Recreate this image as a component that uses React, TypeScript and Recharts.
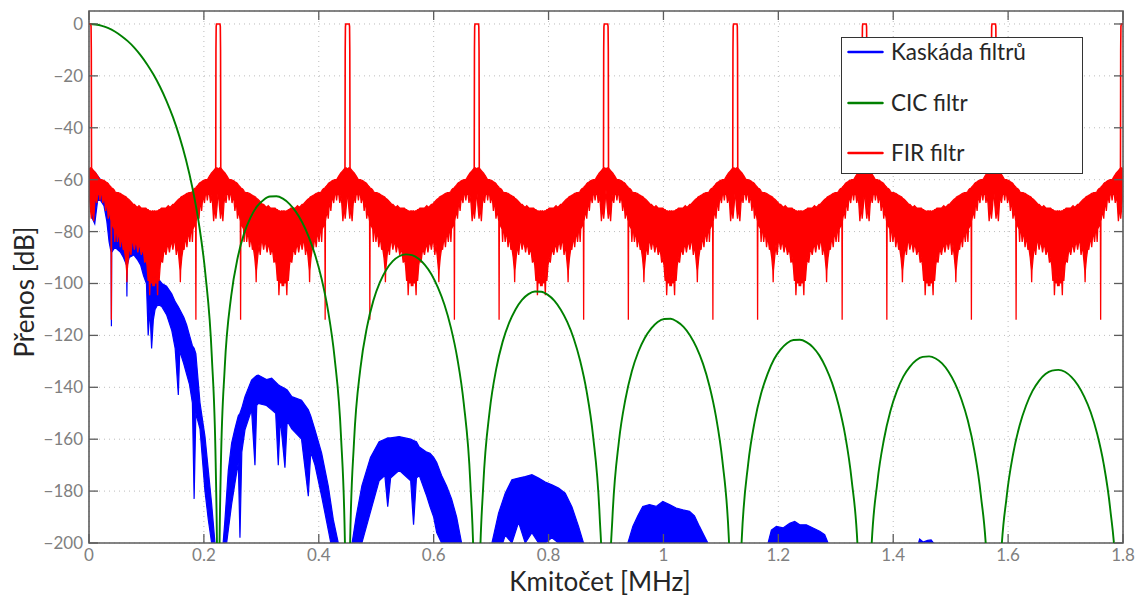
import React from 'react';
import {
  ComposedChart,
  Area,
  Line,
  XAxis,
  YAxis,
  CartesianGrid,
  ReferenceArea,
  Legend,
} from 'recharts';

// ---------- axes ----------
const X_TICKS = [0, 0.2, 0.4, 0.6, 0.8, 1, 1.2, 1.4, 1.6, 1.8];
const Y_TICKS = [0, -20, -40, -60, -80, -100, -120, -140, -160, -180, -200];
const X_DOMAIN = [0, 1.8];
const Y_DOMAIN = [-200, 5];

const SERIES_NAMES = ['Kaskáda filtrů', 'CIC filtr', 'FIR filtr'];
const SERIES_COLORS = ['#0000ff', '#008000', '#ff0000'];

// ---------- CIC filtr (green) ----------
const CIC_FREQ = [
  0, 0.0113, 0.0225, 0.0338, 0.045, 0.0563, 0.0675, 0.0788, 0.09, 0.1013, 0.1125, 0.1238, 0.135, 0.1463, 0.1575, 0.1688, 0.18, 0.1913, 0.2025, 0.2138, 0.2205, 0.2239, 0.225,
  0.2261, 0.2295, 0.2363, 0.2475, 0.2588, 0.27, 0.2813, 0.2925, 0.3038, 0.315, 0.3263, 0.3375, 0.3488, 0.36, 0.3713, 0.3825, 0.3938, 0.405, 0.4163, 0.4275, 0.4388, 0.4455, 0.4489, 0.45,
  0.4545, 0.4613, 0.4725, 0.4838, 0.495, 0.5063, 0.5175, 0.5288, 0.54, 0.5513, 0.5625, 0.5738, 0.585, 0.5963, 0.6075, 0.6188, 0.63, 0.6413, 0.6525, 0.6638, 0.6705, 0.675,
  0.6795, 0.6863, 0.6975, 0.7088, 0.72, 0.7313, 0.7425, 0.7538, 0.765, 0.7763, 0.7875, 0.7988, 0.81, 0.8213, 0.8325, 0.8438, 0.855, 0.8663, 0.8775, 0.8888, 0.8955, 0.9,
  0.9045, 0.9113, 0.9225, 0.9338, 0.945, 0.9563, 0.9675, 0.9788, 0.99, 1.0013, 1.0125, 1.0238, 1.035, 1.0463, 1.0575, 1.0688, 1.08, 1.0913, 1.1025, 1.1138, 1.1205, 1.125,
  1.1295, 1.1363, 1.1475, 1.1588, 1.17, 1.1813, 1.1925, 1.2038, 1.215, 1.2263, 1.2375, 1.2488, 1.26, 1.2713, 1.2825, 1.2938, 1.305, 1.3163, 1.3275, 1.3388, 1.35,
  1.3613, 1.3725, 1.3838, 1.395, 1.4063, 1.4175, 1.4288, 1.44, 1.4513, 1.4625, 1.4738, 1.485, 1.4963, 1.5075, 1.5188, 1.53, 1.5413, 1.5525, 1.5638, 1.575,
  1.5863, 1.5975, 1.6088, 1.62, 1.6313, 1.6425, 1.6538, 1.665, 1.6763, 1.6875, 1.6988, 1.71, 1.7213, 1.7325, 1.7438, 1.755, 1.7663, 1.7775, 1.7888, 1.8,
];
const CIC_DB = [
  0, -0.2, -0.7, -1.6, -2.9, -4.6, -6.6, -9.1, -12.1, -15.6, -19.6, -24.3, -29.7, -36.0, -43.4, -52.3, -63.1, -76.9, -96.1, -128.1, -169, -230, -300,
  -230, -170.8, -132.4, -104.9, -90.1, -80.7, -74.5, -70.3, -67.8, -66.5, -66.4, -67.3, -69.3, -72.3, -76.5, -82.0, -89.1, -98.3, -110.7, -128.6, -159.3, -199.6, -260, -300,
  -200.2, -161.2, -132.6, -116.9, -106.6, -99.6, -94.7, -91.4, -89.5, -88.8, -89.1, -90.5, -92.9, -96.5, -101.6, -108.2, -117.0, -129.0, -146.4, -176.7, -216.7, -300,
  -217.1, -177.9, -149.1, -133.0, -122.5, -115.2, -110.0, -106.3, -104.1, -103.1, -103.2, -104.4, -106.6, -110.1, -114.8, -121.2, -129.8, -141.6, -158.8, -188.9, -228.9, -300,
  -229.1, -189.8, -160.8, -144.6, -133.8, -126.3, -121.0, -117.3, -114.8, -113.7, -113.6, -114.7, -116.7, -120.0, -124.6, -130.9, -139.4, -151.1, -168.1, -198.1, -240, -300,
  -240, -198.6, -169.5, -153.2, -142.4, -134.8, -129.2, -125.5, -123.0, -121.8, -121.7, -122.6, -124.5, -127.7, -132.3, -138.5, -146.9, -158.4, -175.5, -205.4, -300,
  -205.7, -176.4, -160.1, -149.2, -141.5, -135.9, -132.1, -129.6, -128.3, -128.1, -128.9, -130.8, -134.0, -138.5, -144.7, -152.9, -164.5, -181.5, -211.4, -300,
  -211.4, -182.1, -165.6, -154.7, -147.0, -141.4, -137.5, -134.9, -133.6, -133.3, -134.0, -136.0, -139.1, -143.6, -149.6, -157.9, -169.4, -186.4, -216.1, -300,
];

// ---------- FIR filtr (red) ----------
// centres of the FIR pass-band images
const FIR_IMAGE_CENTERS = [0, 0.225, 0.45, 0.675, 0.9, 1.125, 1.35, 1.575, 1.8];
// pass-band spike shape around each centre
const FIR_PASS_OFFSET = [-0.0044, -0.004, -0.0036, -0.003, 0.003, 0.0036, 0.004, 0.0044];
const FIR_PASS_DB = [-58, -10, -1, 0, 0, -1, -10, -58];
// stop-band between two neighbouring images (offset from the left image)
const FIR_STOP_OFFSET = [
  0, 0.002, 0.004, 0.006, 0.008, 0.01, 0.012, 0.0135, 0.015, 0.0175,
  0.019, 0.0205, 0.0225, 0.024, 0.0255, 0.0275, 0.029, 0.0305, 0.032, 0.0335,
  0.035, 0.037, 0.0384, 0.0389, 0.0394, 0.042, 0.044, 0.045, 0.046, 0.048,
  0.0495, 0.051, 0.053, 0.0545, 0.056, 0.058, 0.0595, 0.061, 0.0635, 0.0655,
  0.066, 0.0665, 0.069, 0.071, 0.073, 0.075, 0.077, 0.079, 0.081, 0.083,
  0.085, 0.087, 0.089, 0.091, 0.093, 0.095, 0.097, 0.099, 0.101, 0.103,
  0.1045, 0.1056, 0.107, 0.1085, 0.11, 0.1112, 0.1125,
  0.1138, 0.115, 0.1165, 0.118, 0.1194, 0.1205, 0.122, 0.124, 0.126, 0.128,
  0.13, 0.132, 0.134, 0.136, 0.138, 0.14, 0.142, 0.144, 0.146, 0.148,
  0.15, 0.152, 0.154, 0.156, 0.1585, 0.159, 0.1595, 0.1615, 0.164, 0.1655,
  0.167, 0.169, 0.1705, 0.172, 0.174, 0.1755, 0.177, 0.179, 0.18, 0.181,
  0.183, 0.1856, 0.1861, 0.1866, 0.188, 0.19, 0.1915, 0.193, 0.1945, 0.196,
  0.1975, 0.1995, 0.201, 0.2025, 0.2045, 0.206, 0.2075, 0.21, 0.2115, 0.213,
  0.215, 0.217, 0.219, 0.221, 0.223,
];
const FIR_STOP_UPPER = [
  -56, -55.5, -55.5, -56, -56.5, -57, -57.5, -58, -58.5, -59.5,
  -60, -60, -60, -60.2, -60.3, -60.5, -60.8, -61, -61.2, -61.5,
  -62, -62.5, -62.8, -63.5, -63.2, -63.5, -64, -64.5, -64.8, -65,
  -65, -65, -65.2, -65.3, -65.5, -65.8, -66, -66.2, -66.5, -66.8,
  -68, -67.2, -67.5, -68, -68.5, -69, -69.5, -69.5, -70, -70.5,
  -70.5, -70, -70.5, -71, -71, -71, -71, -71, -71.5, -71.5,
  -72, -72, -72, -72.5, -72, -72, -72.5,
  -72, -72, -72.5, -72, -72, -72, -71.5, -71.5, -71, -71,
  -71, -71, -71, -70.5, -70, -70.5, -70.5, -70, -69.5, -69.5,
  -69, -68.5, -68, -67.5, -67.2, -68, -66.8, -66.5, -66.2, -66,
  -65.8, -65.5, -65.3, -65.2, -65, -65, -65, -64.8, -64.5, -64,
  -63.5, -63.2, -63.5, -62.8, -62.5, -62, -61.5, -61.2, -61, -60.8,
  -60.5, -60.3, -60.2, -60, -60, -60, -59.5, -58.5, -58, -57.5,
  -57, -56.5, -56, -55.5, -55.5,
];
const FIR_STOP_LOWER = [
  -64, -70, -75, -70, -76, -69, -66, -69, -66, -65,
  -68, -65, -66, -69, -67, -68, -72, -69, -70, -75,
  -72, -74, -76, -114, -77, -78, -79, -84, -80, -80,
  -84, -81, -82, -86, -83, -84, -87, -86, -90, -95,
  -99.5, -95, -89, -85, -89, -84, -84, -87, -84, -85,
  -88, -85, -86, -89, -87, -88, -92, -90, -93, -99,
  -95, -104.5, -97, -100, -97, -101, -98,
  -101, -97, -100, -97, -104.5, -95, -99, -93, -90, -92,
  -88, -87, -89, -86, -85, -88, -85, -84, -87, -84,
  -84, -89, -85, -89, -95, -99.5, -95, -90, -86, -87,
  -84, -83, -86, -82, -81, -84, -80, -80, -84, -79,
  -78, -77, -114, -76, -74, -72, -75, -70, -69, -72,
  -68, -67, -69, -66, -65, -68, -65, -66, -69, -66,
  -69, -76, -70, -75, -70,
];

// ---------- Kaskáda filtrů (blue) ----------
const CASCADE_FREQ = [
  0.004, 0.01, 0.015, 0.02, 0.026, 0.031, 0.035, 0.0385, 0.039, 0.0395,
  0.045, 0.05, 0.055, 0.06, 0.0655, 0.066, 0.0665, 0.07, 0.078, 0.085,
  0.09, 0.095, 0.1, 0.103, 0.106, 0.109, 0.112, 0.115, 0.12, 0.127,
  0.135, 0.144, 0.15, 0.1555, 0.158, 0.165, 0.17, 0.175, 0.18, 0.183,
  0.186, 0.1932, 0.2019, 0.2077, 0.2135, 0.2193, 0.223,
  0.228, 0.2335, 0.2367, 0.2425, 0.2483, 0.254, 0.2599, 0.2628, 0.266, 0.2715,
  0.283, 0.2889, 0.292, 0.2947, 0.309, 0.318, 0.325, 0.3295, 0.333, 0.3411,
  0.345, 0.353, 0.37, 0.3818, 0.386, 0.3934, 0.405, 0.4166, 0.4253, 0.434, 0.44,
  0.45, 0.458, 0.465, 0.475, 0.49, 0.505, 0.515, 0.52, 0.525, 0.54,
  0.55, 0.56, 0.565, 0.57, 0.575, 0.588, 0.5936, 0.6, 0.6053, 0.6138,
  0.6225, 0.6312, 0.64, 0.6486, 0.656,
  0.695, 0.7014, 0.713, 0.7246, 0.7362, 0.7478, 0.7594, 0.771, 0.7826, 0.7942,
  0.8058, 0.8174, 0.829, 0.8406, 0.8522, 0.8609, 0.868,
  0.932, 0.938, 0.9467, 0.9554, 0.964, 0.9757, 0.9873, 0.9989, 1.0105, 1.0221,
  1.0337, 1.0453, 1.054, 1.0627, 1.0714, 1.0772, 1.084,
  1.176, 1.1821, 1.1879, 1.1966, 1.2082, 1.2198, 1.2285, 1.2372, 1.2488, 1.2604,
  1.272, 1.2807, 1.2865, 1.293,
  1.438, 1.444, 1.446, 1.452, 1.46, 1.466, 1.47, 1.476,
];
const CASCADE_UPPER = [
  -56, -57, -58.5, -60, -61, -62, -62.5, -63.5, -64, -64.5,
  -68, -69, -70, -72, -74, -74.2, -74.4, -75, -77, -81,
  -83, -85, -86, -87, -88, -90, -92, -95, -98, -100,
  -101, -104, -107, -109, -110, -113, -116, -120, -124, -125,
  -127, -146, -159, -172, -185, -200, -240,
  -240, -200, -191, -172, -161.5, -156, -151, -150, -148, -143.6,
  -137.2, -136, -135.5, -135.3, -137, -136.5, -138, -139, -139.5, -140.5,
  -141, -143.6, -145, -148.7, -151, -156.4, -165.4, -178.2, -191, -200, -240,
  -240, -200, -190, -178, -167, -161, -160, -159.5, -159.5, -159,
  -159.5, -160, -160.5, -161, -163, -165, -165.4, -167, -169, -174,
  -178, -183, -190, -200, -240,
  -240, -200, -188.5, -180.8, -175.6, -175, -174.4, -173.7, -175, -176.5,
  -177.6, -178.8, -180.8, -186, -193.6, -200, -240,
  -240, -200, -193.6, -189.5, -185.9, -185.2, -185.9, -184, -185.2, -186.5,
  -187.2, -187.8, -189.5, -193.6, -197.4, -200, -240,
  -240, -200, -195, -193.6, -194.2, -192.4, -191.7, -193, -193, -194.2,
  -195.5, -196.8, -200, -240,
  -240, -200, -198.5, -199.6, -199, -198.8, -200, -240,
];
const CASCADE_LOWER = [
  -74, -77, -68, -68, -70, -76, -84, -88, -116.5, -88,
  -86, -87, -88, -90, -93, -105, -93, -90, -89, -91,
  -93, -97, -100, -120, -110, -125, -114, -110, -108, -109,
  -112, -118, -125, -143, -126, -131, -135, -139, -146, -183,
  -150, -156, -180, -191, -200, -215, -240,
  -240, -215, -205, -195, -185, -177, -169, -198, -165, -156.4,
  -148.7, -170, -147, -146.2, -147, -148.7, -150, -170, -152, -171,
  -153, -156, -160, -182, -165, -170, -182, -195, -205, -215, -240,
  -240, -215, -205, -200, -188, -176, -174, -186, -175, -172,
  -174, -176, -193, -175, -174, -182, -186, -190, -196, -200,
  -205, -212, -215, -220, -240,
  -240, -215, -205, -197, -200, -192, -200, -196, -200, -200,
  -198, -200, -200, -205, -210, -215, -240,
  -240, -215, -210, -205, -205, -200, -205, -200, -205, -200,
  -205, -200, -210, -210, -215, -220, -240,
  -240, -215, -210, -210, -210, -210, -210, -210, -210, -210,
  -210, -212, -215, -240,
  -240, -215, -210, -210, -210, -210, -215, -240,
];

// ---------- tables built from the arrays ----------
const cicRows = CIC_FREQ.map((f, i) => ({ f, db: CIC_DB[i] }));

const cascadeRows = CASCADE_FREQ.map((f, i) => ({
  f,
  band: [CASCADE_LOWER[i], CASCADE_UPPER[i]],
}));

const firStopRows: { f: number; band: number[] }[] = [];
FIR_IMAGE_CENTERS.slice(0, -1).forEach((c) => {
  FIR_STOP_OFFSET.forEach((o, i) => {
    firStopRows.push({ f: c + o, band: [FIR_STOP_LOWER[i], FIR_STOP_UPPER[i]] });
  });
});
firStopRows.push({
  f: FIR_IMAGE_CENTERS[FIR_IMAGE_CENTERS.length - 1],
  band: [FIR_STOP_LOWER[0], FIR_STOP_UPPER[0]],
});

const firPassRows: { f: number; db: number | null }[] = [];
FIR_IMAGE_CENTERS.forEach((c) => {
  FIR_PASS_OFFSET.forEach((o, i) => firPassRows.push({ f: c + o, db: FIR_PASS_DB[i] }));
  firPassRows.push({ f: c + 0.1, db: null });
});

// ---------- styling ----------
const PLOT = { left: 89, right: 1123, top: 11, bottom: 543 };
const TICK_LEN = 9;
const AXIS_COLOR = '#5c5c5c';
const TICK_TEXT = '#808080';
const TITLE_COLOR = '#262626';
const FONT = 'Lato, "Open Sans", sans-serif';

const fmtX = (v: number) => String(Math.round(v * 10) / 10);
const fmtY = (v: number) => (v < 0 ? '\u2212' + Math.abs(v) : String(v));

const XTick = (props: any) => {
  const { x, y, payload } = props;
  return (
    <g>
      <line x1={x} x2={x} y1={PLOT.bottom} y2={PLOT.bottom - TICK_LEN} stroke={AXIS_COLOR} strokeWidth={1.3} />
      <line x1={x} x2={x} y1={PLOT.top} y2={PLOT.top + TICK_LEN} stroke={AXIS_COLOR} strokeWidth={1.3} />
      <text x={x} y={y} dy={12} textAnchor="middle" fill={TICK_TEXT} fontSize={17} fontFamily={FONT}>
        {fmtX(payload.value)}
      </text>
    </g>
  );
};

const YTick = (props: any) => {
  const { x, y, payload } = props;
  return (
    <g>
      <line x1={PLOT.left} x2={PLOT.left + TICK_LEN} y1={y} y2={y} stroke={AXIS_COLOR} strokeWidth={1.3} />
      <line x1={PLOT.right - TICK_LEN} x2={PLOT.right} y1={y} y2={y} stroke={AXIS_COLOR} strokeWidth={1.3} />
      <text x={x} y={y} dy={6} textAnchor="end" fill={TICK_TEXT} fontSize={17} fontFamily={FONT}>
        {fmtY(payload.value)}
      </text>
    </g>
  );
};

const XTitle = () => (
  <text x={600} y={591} textAnchor="middle" fill={TITLE_COLOR} fontSize={26} fontFamily={FONT}>
    Kmitočet [MHz]
  </text>
);

const YTitle = () => (
  <text x={34} y={292} transform="rotate(-90 34 292)" textAnchor="middle" fill={TITLE_COLOR} fontSize={26} fontFamily={FONT}>
    Přenos [dB]
  </text>
);

const LegendBox = () => (
  <div
    style={{
      width: 240,
      height: 135,
      border: '1px solid #333',
      background: '#fff',
      position: 'relative',
      fontFamily: FONT,
      fontSize: 22.5,
      color: TITLE_COLOR,
    }}
  >
    {SERIES_NAMES.map((name, i) => (
      <div
        key={name}
        style={{
          position: 'absolute',
          left: 5,
          top: 13.7 + i * 50.8 - 15,
          height: 30,
          display: 'flex',
          alignItems: 'center',
          whiteSpace: 'nowrap',
        }}
      >
        <svg width={37} height={6} style={{ display: 'block' }}>
          <line x1={1.5} x2={35.5} y1={3} y2={3} stroke={SERIES_COLORS[i]} strokeWidth={2.5} strokeLinecap="round" />
        </svg>
        <span style={{ marginLeft: 7, lineHeight: '30px' }}>{name}</span>
      </div>
    ))}
  </div>
);

export default function App() {
  return (
    <div style={{ position: 'fixed', left: 0, top: 0, width: 1143, height: 596, background: '#fff' }}>
      <ComposedChart width={1143} height={596} margin={{ top: 11, right: 20, bottom: 0, left: 0 }}>
        <CartesianGrid stroke="#bcbcbc" strokeDasharray="1 4" />
        <XAxis
          type="number"
          dataKey="f"
          domain={X_DOMAIN}
          ticks={X_TICKS}
          allowDataOverflow
          height={53}
          axisLine={false}
          tickLine={false}
          tickSize={0}
          tickMargin={6}
          tick={XTick}
          interval={0}
          label={XTitle}
        />
        <YAxis
          type="number"
          domain={Y_DOMAIN}
          ticks={Y_TICKS}
          allowDataOverflow
          width={89}
          axisLine={false}
          tickLine={false}
          tickSize={0}
          tickMargin={6}
          tick={YTick}
          interval={0}
          label={YTitle}
        />
        <Area
          data={cascadeRows}
          dataKey="band"
          name={SERIES_NAMES[0]}
          type="linear"
          stroke={SERIES_COLORS[0]}
          strokeWidth={1.2}
          fill={SERIES_COLORS[0]}
          fillOpacity={1}
          isAnimationActive={false}
          dot={false}
          activeDot={false}
        />
        <Line
          data={cicRows}
          dataKey="db"
          name={SERIES_NAMES[1]}
          type="monotone"
          stroke={SERIES_COLORS[1]}
          strokeWidth={1.9}
          isAnimationActive={false}
          dot={false}
          activeDot={false}
        />
        <Area
          data={firStopRows}
          dataKey="band"
          name={SERIES_NAMES[2]}
          type="linear"
          stroke={SERIES_COLORS[2]}
          strokeWidth={1.3}
          fill={SERIES_COLORS[2]}
          fillOpacity={1}
          isAnimationActive={false}
          dot={false}
          activeDot={false}
        />
        <Line
          data={firPassRows}
          dataKey="db"
          name="FIR pass"
          legendType="none"
          type="linear"
          stroke={SERIES_COLORS[2]}
          strokeWidth={1.6}
          connectNulls={false}
          isAnimationActive={false}
          dot={false}
          activeDot={false}
        />
        <ReferenceArea
          x1={X_DOMAIN[0]}
          x2={X_DOMAIN[1]}
          y1={Y_DOMAIN[0]}
          y2={Y_DOMAIN[1]}
          fill="none"
          stroke={AXIS_COLOR}
          strokeWidth={1.6}
          ifOverflow="visible"
        />
        <Legend
          layout="vertical"
          align="center"
          verticalAlign="middle"
          content={() => <LegendBox />}
          wrapperStyle={{ left: 841, top: 37, width: 242, height: 137 }}
        />
      </ComposedChart>
    </div>
  );
}
